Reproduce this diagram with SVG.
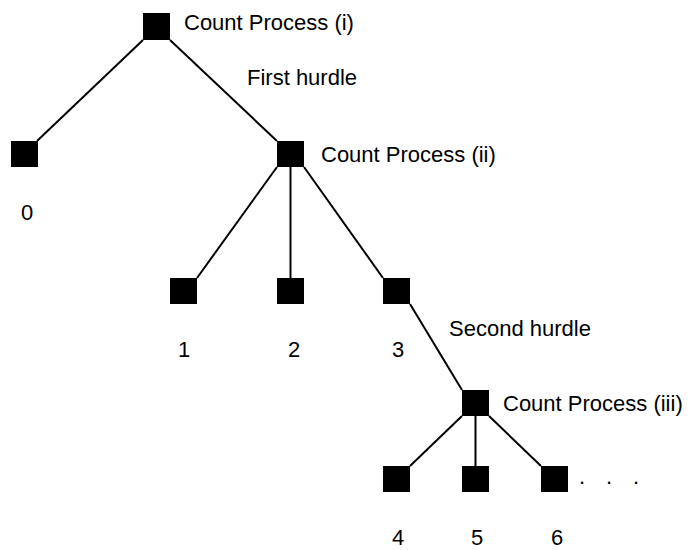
<svg xmlns="http://www.w3.org/2000/svg" width="690" height="550" viewBox="0 0 690 550">
  <style>
    .node { fill: #000; }
    .edge { stroke: #000; stroke-width: 2; fill: none; }
    .lbl { font-family: "Liberation Sans", Arial, sans-serif; font-size: 22px; fill: #000; }
    .num { text-anchor: middle; }
  </style>
  <rect width="690" height="550" fill="#fff"/>

  <!-- connectors -->
  <g id="connectors">
    <line class="edge" x1="143" y1="40" x2="37" y2="141"/>
    <line class="edge" x1="170" y1="40" x2="277" y2="141"/>
    <line class="edge" x1="277" y1="167" x2="197" y2="278"/>
    <line class="edge" x1="290.5" y1="167" x2="290.5" y2="278"/>
    <line class="edge" x1="304" y1="167" x2="383" y2="278"/>
    <line class="edge" x1="410" y1="304" x2="462" y2="390"/>
    <line class="edge" x1="462" y1="416" x2="410" y2="466"/>
    <line class="edge" x1="475.5" y1="416" x2="475.5" y2="466"/>
    <line class="edge" x1="489" y1="416" x2="541" y2="466"/>
  </g>

  <!-- count process (i) -->
  <g id="count-i">
    <rect class="node" x="143" y="13" width="27" height="27"/>
    <text class="lbl" x="184" y="30">Count Process (i)</text>
  </g>

  <text id="first-hurdle" class="lbl" x="247" y="85">First hurdle</text>

  <g id="leaf-0">
    <rect class="node" x="11" y="141" width="27" height="26"/>
    <text class="lbl num" x="27" y="220">0</text>
  </g>

  <!-- count process (ii) -->
  <g id="count-ii">
    <rect class="node" x="277" y="141" width="27" height="26"/>
    <text class="lbl" x="321" y="162">Count Process (ii)</text>
  </g>

  <g id="leaf-1">
    <rect class="node" x="170" y="278" width="27" height="26"/>
    <text class="lbl num" x="184" y="357">1</text>
  </g>
  <g id="leaf-2">
    <rect class="node" x="277" y="278" width="27" height="26"/>
    <text class="lbl num" x="294" y="357">2</text>
  </g>
  <g id="leaf-3">
    <rect class="node" x="383" y="278" width="27" height="26"/>
    <text class="lbl num" x="398" y="357">3</text>
  </g>

  <text id="second-hurdle" class="lbl" x="449" y="336">Second hurdle</text>

  <!-- count process (iii) -->
  <g id="count-iii">
    <rect class="node" x="462" y="390" width="27" height="26"/>
    <text class="lbl" x="503" y="411">Count Process (iii)</text>
  </g>

  <g id="leaf-4">
    <rect class="node" x="383" y="466" width="27" height="26"/>
    <text class="lbl num" x="398" y="545">4</text>
  </g>
  <g id="leaf-5">
    <rect class="node" x="462" y="466" width="27" height="26"/>
    <text class="lbl num" x="477" y="545">5</text>
  </g>
  <g id="leaf-6">
    <rect class="node" x="541" y="466" width="27" height="26"/>
    <text class="lbl num" x="557" y="545">6</text>
  </g>

  <text id="ellipsis" class="lbl" x="579 593 606 620 633" y="484">. . .</text>
</svg>
